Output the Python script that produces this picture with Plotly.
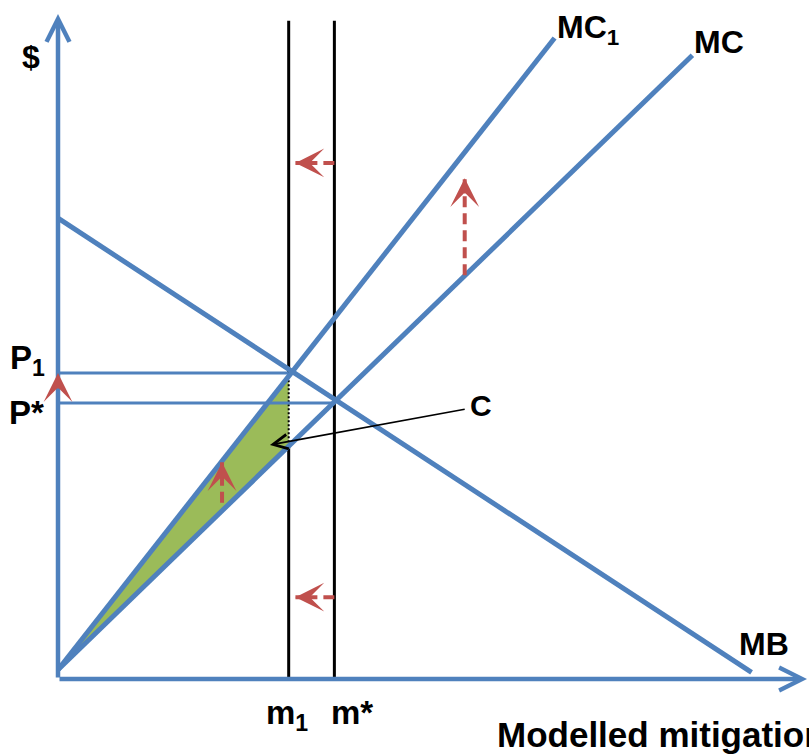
import plotly.graph_objects as go

# ---------------- data (model units: mitigation 0-100, $ 0-100) ----------------
mc_x = [0.0, 84.7]
mc_y = [1.4, 93.8]
mc1_x = [0.0, 66.3]
mc1_y = [1.4, 96.4]
mb_x = [0.0, 92.6]
mb_y = [69.3, 1.0]

m_vals = [30.8, 36.9]            # m1, m*
m_labels = ["m<sub>1</sub>", "m*"]
p_vals = [46.0, 41.5]            # P1, P*
p_labels = ["P<sub>1</sub>", "P*"]
v_top = 99.0
axis_end = [100.0, 100.0]        # x-axis end, y-axis end

# red shift arrows: (x0, y0, x1, y1)
shift_arrows = [
    (36.9, 77.6, 31.7, 77.6),
    (36.9, 12.3, 31.7, 12.3),
    (54.3, 60.7, 54.3, 75.3),
    (21.9, 26.5, 21.9, 32.6),
    (0.0, 39.5, 0.0, 46.0),
]
c_arrow = (54.5, 40.6, 28.3, 35.2)   # tail -> tip
c_label = "C"

# ---------------- style ----------------
BLUE = "#4F81BD"
GREEN = "#9BBB59"
RED = "#C0504D"
FONT = "Liberation Sans, Arial, sans-serif"
W, H = 809, 756
PX0, PY0, SX, SY = 58, 679, 7.49, 6.65


def line_y(xs, ys, x):
    return ys[0] + (ys[1] - ys[0]) * (x - xs[0]) / (xs[1] - xs[0])


m1, ms = m_vals
p1, ps = p_vals
mc1_at_m1 = line_y(mc1_x, mc1_y, m1)
mc_at_m1 = line_y(mc_x, mc_y, m1)

fig = go.Figure()

# green area C
fig.add_trace(go.Scatter(
    x=[mc_x[0], m1, m1, mc_x[0]],
    y=[mc_y[0], mc1_at_m1, mc_at_m1, mc_y[0]],
    fill="toself", fillcolor=GREEN, mode="lines", line=dict(width=0),
    hoverinfo="skip"))

# vertical lines
blk = dict(color="black", width=3)
fig.add_trace(go.Scatter(x=[m1, m1], y=[v_top, mc1_at_m1], mode="lines", line=blk))
fig.add_trace(go.Scatter(x=[m1, m1], y=[mc1_at_m1, mc_at_m1], mode="lines",
                         line=dict(color="black", width=2, dash="2px,2px")))
fig.add_trace(go.Scatter(x=[m1, m1], y=[mc_at_m1, 0], mode="lines", line=blk))
fig.add_trace(go.Scatter(x=[ms, ms], y=[v_top, 0], mode="lines", line=blk))

# price lines
for mv, pv in zip(m_vals, p_vals):
    fig.add_trace(go.Scatter(x=[0, mv], y=[pv, pv], mode="lines",
                             line=dict(color=BLUE, width=3)))

# curves
for xs, ys in [(mb_x, mb_y), (mc_x, mc_y), (mc1_x, mc1_y)]:
    fig.add_trace(go.Scatter(x=xs, y=ys, mode="lines",
                             line=dict(color=BLUE, width=5)))

# red dashed shafts
for x0, y0, x1, y1 in shift_arrows:
    fig.add_trace(go.Scatter(x=[x0, x1], y=[y0, y1], mode="lines",
                             line=dict(color=RED, width=4, dash="11px,6px")))

annotations = []

# axes with arrows
annotations.append(dict(x=axis_end[0], y=0, ax=0, ay=0, xref="x", yref="y",
                        axref="x", ayref="y", text="", showarrow=True,
                        arrowhead=5, arrowwidth=4.5, arrowsize=1, arrowcolor=BLUE))
annotations.append(dict(x=0, y=axis_end[1], ax=0, ay=0, xref="x", yref="y",
                        axref="x", ayref="y", text="", showarrow=True,
                        arrowhead=5, arrowwidth=4.5, arrowsize=1, arrowcolor=BLUE))

# red arrow heads
for x0, y0, x1, y1 in shift_arrows:
    dx, dy = x1 - x0, y1 - y0
    L = (dx * dx + dy * dy) ** 0.5
    annotations.append(dict(x=x1, y=y1, ax=x1 - dx / L * 2.0, ay=y1 - dy / L * 2.0,
                            xref="x", yref="y", axref="x", ayref="y", text="",
                            showarrow=True, arrowhead=3, arrowwidth=4,
                            arrowsize=1.2, arrowcolor=RED))

# C pointer
annotations.append(dict(x=c_arrow[2], y=c_arrow[3], ax=c_arrow[0], ay=c_arrow[1],
                        xref="x", yref="y", axref="x", ayref="y", text="",
                        showarrow=True, arrowhead=5, arrowwidth=1.6, arrowsize=1.8,
                        arrowcolor="black"))


def label(text, x, y, xa="center", xs=0, ys=0, size=33):
    annotations.append(dict(x=x, y=y, xref="x", yref="y", text="<b>%s</b>" % text,
                            showarrow=False, xanchor=xa, yanchor="middle",
                            xshift=xs, yshift=ys,
                            font=dict(family=FONT, size=size, color="black")))


label(c_label, c_arrow[0], c_arrow[1], xa="left", xs=2, ys=4, size=30)
label("$", 0, axis_end[1], xa="center", xs=-27, ys=-43, size=32)
label(p_labels[0], 0, p1, xa="right", xs=-11, ys=13)
label(p_labels[1], 0, ps, xa="right", xs=-12, ys=-9)
label(m_labels[0], m1, 0, xa="center", xs=-2, ys=-36)
label(m_labels[1], ms, 0, xa="left", xs=-5, ys=-33)
label("MC<sub>1</sub>", mc1_x[1], mc1_y[1], xa="left", xs=0, ys=8, size=32)
label("MC", mc_x[1], mc_y[1], xa="left", xs=0, ys=13, size=32)
label("MB", mb_x[1], mb_y[1], xa="center", xs=12, ys=28, size=32)
label("Modelled mitigation", (495 - PX0) / SX, 0, xa="left", xs=0, ys=-55, size=35)

fig.update_layout(
    width=W, height=H, margin=dict(l=0, r=0, t=0, b=0),
    paper_bgcolor="white", plot_bgcolor="white", showlegend=False,
    xaxis=dict(range=[-PX0 / SX, (W - PX0) / SX], visible=False, fixedrange=True),
    yaxis=dict(range=[-(H - PY0) / SY, PY0 / SY], visible=False, fixedrange=True),
    annotations=annotations,
)

fig.write_html("out.html", config={"displayModeBar": False},
               post_script="document.body.style.margin='0';document.body.style.overflow='hidden';")
